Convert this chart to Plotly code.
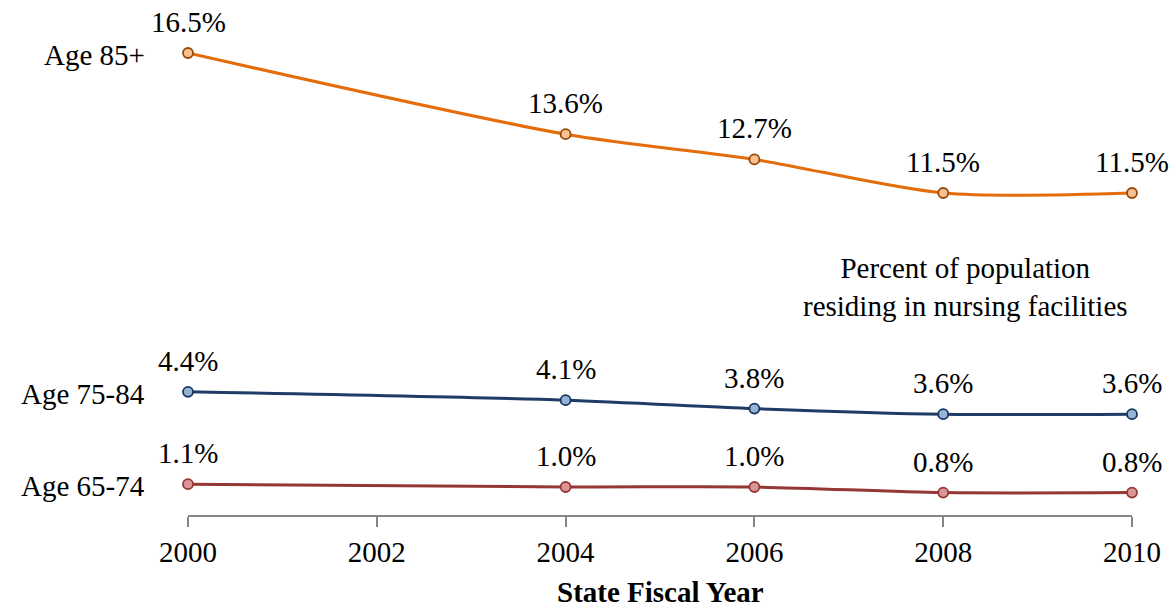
import plotly.graph_objects as go

years = [2000, 2004, 2006, 2008, 2010]
age_85_plus = [16.5, 13.6, 12.7, 11.5, 11.5]
age_75_84 = [4.4, 4.1, 3.8, 3.6, 3.6]
age_65_74 = [1.1, 1.0, 1.0, 0.8, 0.8]
tick_years = [2000, 2002, 2004, 2006, 2008, 2010]

series = [
    ("Age 85+", age_85_plus, "#E46C0A", "#FAC090", "#984807"),
    ("Age 75-84", age_75_84, "#1F3C66", "#95B3D7", "#17375E"),
    ("Age 65-74", age_65_74, "#953735", "#D99694", "#953735"),
]

font = "Liberation Serif, Times New Roman, serif"

fig = go.Figure()
annotations = []
for name, vals, line_col, fill_col, edge_col in series:
    fig.add_trace(go.Scatter(
        x=years, y=vals, mode="lines+markers", name=name,
        line=dict(color=line_col, width=3, shape="spline", smoothing=0.8),
        marker=dict(size=10, color=fill_col, line=dict(color=edge_col, width=1.8)),
        cliponaxis=False,
    ))
    # value labels above each point
    for x, v in zip(years, vals):
        annotations.append(dict(
            x=x, y=v, xref="x", yref="y", text=f"{v:.1f}%", showarrow=False,
            yshift=31, font=dict(size=29, color="black", family=font),
        ))
    # series name to the left of the first point
    annotations.append(dict(
        x=years[0], y=vals[0], xref="x", yref="y", text=name, showarrow=False,
        xanchor="right", xshift=-41, yshift=-2,
        font=dict(size=29, color="black", family=font),
    ))

annotations.append(dict(
    x=2008.24, y=8.14, xref="x", yref="y", showarrow=False,
    text="Percent of population<br>residing in nursing facilities",
    font=dict(size=29, color="black", family=font),
))

# axis title placed by hand so it does not push the margin
annotations.append(dict(
    x=0.5, y=0, xref="paper", yref="paper", showarrow=False,
    yanchor="middle", yshift=-77,
    text="<b>State Fiscal Year</b>",
    font=dict(size=29, color="black", family=font),
))

fig.update_layout(
    width=1174, height=608,
    margin=dict(l=188, r=42, t=39, b=93),
    plot_bgcolor="white", paper_bgcolor="white",
    showlegend=False,
    font=dict(family=font, size=29, color="black"),
    annotations=annotations,
    xaxis=dict(
        range=[2000, 2010], tickvals=tick_years, ticktext=[str(t) for t in tick_years],
        showgrid=False, zeroline=False, showline=True, linecolor="#868686", linewidth=1.5,
        ticks="outside", ticklen=10, tickwidth=1.5, tickcolor="#868686",
        tickfont=dict(size=29, family=font, color="black"),
        automargin=False,
    ),
    yaxis=dict(range=[0, 17], visible=False, automargin=False),
)

# drop the page's default body margin so the figure fills the window
fig.write_html("out.html", config={"displayModeBar": False},
               post_script="document.body.style.margin='0';")
